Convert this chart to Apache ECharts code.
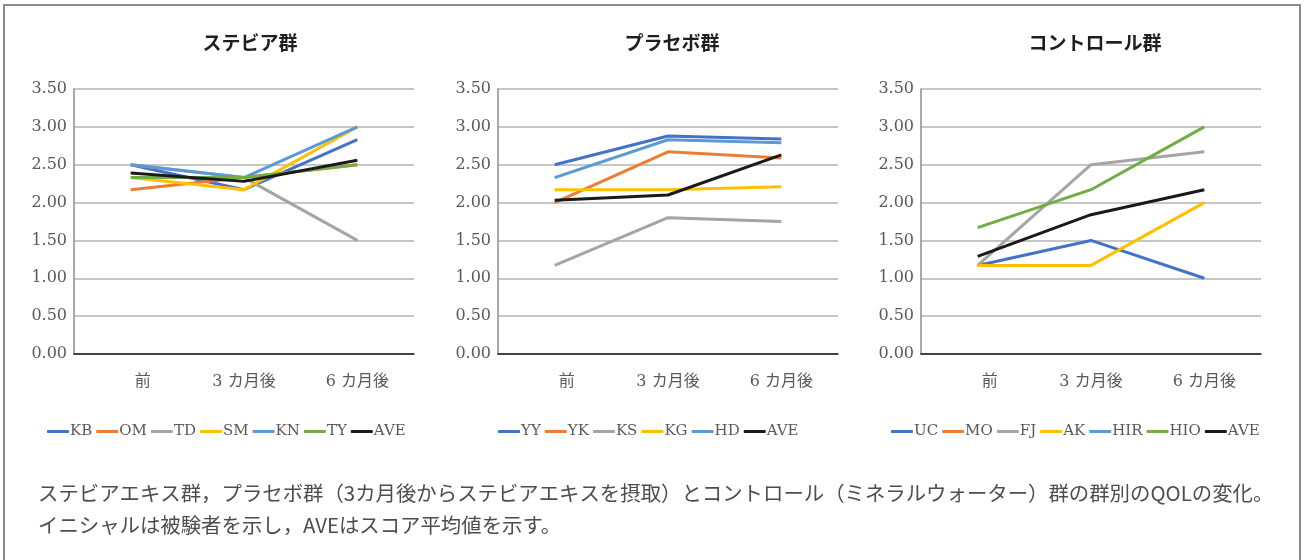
<!DOCTYPE html>
<html>
<head>
<meta charset="utf-8">
<script src="https://cdn.jsdelivr.net/npm/echarts@6/dist/echarts.min.js"></script>
<style>
html, body { margin: 0; background: #fff; }
#chart { width: 1304px; height: 560px; }
</style>
</head>
<body>
<div id="chart"></div>
<script>
const categories = ['前', '3 カ月後', '6 カ月後']
const panelTitles = ['ステビア群', 'プラセボ群', 'コントロール群']

// ステビア群
const steviaNames = ['KB', 'OM', 'TD', 'SM', 'KN', 'TY', 'AVE']
const steviaKB = [2.50, 2.17, 2.83]
const steviaOM = [2.17, 2.33, 2.50]
const steviaTD = [2.50, 2.33, 1.50]
const steviaSM = [2.33, 2.17, 3.00]
const steviaKN = [2.50, 2.33, 3.00]
const steviaTY = [2.33, 2.33, 2.50]
const steviaAVE = [2.39, 2.28, 2.56]

// プラセボ群
const placeboNames = ['YY', 'YK', 'KS', 'KG', 'HD', 'AVE']
const placeboYY = [2.50, 2.88, 2.84]
const placeboYK = [2.00, 2.67, 2.59]
const placeboKS = [1.17, 1.80, 1.75]
const placeboKG = [2.17, 2.17, 2.21]
const placeboHD = [2.33, 2.83, 2.79]
const placeboAVE = [2.03, 2.10, 2.63]

// コントロール群 (MO, HIR have no values drawn)
const controlNames = ['UC', 'MO', 'FJ', 'AK', 'HIR', 'HIO', 'AVE']
const controlUC = [1.17, 1.50, 1.00]
const controlMO = [null, null, null]
const controlFJ = [1.17, 2.50, 2.67]
const controlAK = [1.17, 1.17, 2.00]
const controlHIR = [null, null, null]
const controlHIO = [1.67, 2.17, 3.00]
const controlAVE = [1.29, 1.84, 2.17]

const caption1 = 'ステビアエキス群，プラセボ群（3カ月後からステビアエキスを摂取）とコントロール（ミネラルウォーター）群の群別のQOLの変化。'
const caption2 = 'イニシャルは被験者を示し，AVEはスコア平均値を示す。'

const colors = {
  blue: '#4472C4',
  orange: '#ED7D31',
  gray: '#A5A5A5',
  yellow: '#FFC000',
  lightBlue: '#5B9BD5',
  green: '#70AD47',
  black: '#1a1a1a',
}

const panels = [
  {
    names: steviaNames,
    data: [steviaKB, steviaOM, steviaTD, steviaSM, steviaKN, steviaTY, steviaAVE],
    colors: [colors.blue, colors.orange, colors.gray, colors.yellow, colors.lightBlue, colors.green, colors.black],
    gridLeft: 74,
    titleX: 245,
    legendLeft: 42,
  },
  {
    names: placeboNames,
    data: [placeboYY, placeboYK, placeboKS, placeboKG, placeboHD, placeboAVE],
    colors: [colors.blue, colors.orange, colors.gray, colors.yellow, colors.lightBlue, colors.black],
    gridLeft: 498,
    titleX: 667,
    legendLeft: 493,
  },
  {
    names: controlNames,
    data: [controlUC, controlMO, controlFJ, controlAK, controlHIR, controlHIO, controlAVE],
    colors: [colors.blue, colors.orange, colors.gray, colors.yellow, colors.lightBlue, colors.green, colors.black],
    gridLeft: 921,
    titleX: 1090,
    legendLeft: 886,
  },
]

const serif = "'DejaVu Serif', 'Noto Sans CJK JP', serif"

const chart = echarts.init(document.getElementById('chart'))

const series = []
panels.forEach((panel, p) => {
  panel.names.forEach((name, i) => {
    series.push({
      name: name,
      type: 'line',
      xAxisIndex: p,
      yAxisIndex: p,
      symbol: 'none',
      color: panel.colors[i],
      lineStyle: { width: 3, color: panel.colors[i] },
      data: panel.data[i],
    })
  })
})

chart.setOption({
  animation: false,
  title: panels.map((panel, p) => ({
    text: panelTitles[p],
    left: panel.titleX,
    top: 28,
    textAlign: 'center',
    textStyle: {
      fontFamily: "'Noto Sans CJK JP', sans-serif",
      fontSize: 19,
      fontWeight: 'bold',
      color: '#1f1f1f',
    },
  })),
  legend: panels.map((panel) => ({
    data: panel.names,
    left: panel.legendLeft,
    top: 419,
    icon: 'roundRect',
    itemWidth: 22,
    itemHeight: 3,
    itemGap: 4,
    selectedMode: false,
    textStyle: {
      fontFamily: serif,
      fontSize: 15,
      color: '#595959',
      padding: [0, 0, 0, -4],
    },
  })),
  grid: panels.map((panel) => ({
    left: panel.gridLeft,
    top: 89,
    width: 340,
    height: 265,
  })),
  xAxis: panels.map((panel, p) => ({
    type: 'category',
    gridIndex: p,
    boundaryGap: true,
    data: categories.map((c, i) => i === 0
      ? { value: c, textStyle: { padding: [0, 0, 0, 24] } }
      : c),
    axisLine: { show: true, lineStyle: { color: '#1a1a1a', width: 1.5 } },
    axisTick: { show: false },
    axisLabel: {
      margin: 20,
      fontFamily: serif,
      fontSize: 16,
      color: '#595959',
    },
  })),
  yAxis: panels.map((panel, p) => ({
    type: 'value',
    gridIndex: p,
    min: 0,
    max: 3.5,
    interval: 0.5,
    axisLine: { show: true, lineStyle: { color: '#8c8c8c', width: 1.5 } },
    axisTick: { show: false },
    splitLine: { show: true, lineStyle: { color: '#b3b3b3', width: 1.5 } },
    axisLabel: {
      margin: 7,
      fontFamily: serif,
      fontSize: 16,
      color: '#595959',
      formatter: (v) => v.toFixed(2),
    },
  })),
  series: series,
  graphic: [
    {
      type: 'rect',
      shape: { x: 4, y: 5, width: 1296, height: 600 },
      style: { fill: 'none', stroke: '#8c8c8c', lineWidth: 2 },
      silent: true,
    },
    {
      type: 'text',
      left: 38,
      top: 483,
      style: {
        text: caption1,
        font: "20.4px 'Noto Sans CJK JP'",
        fill: '#4d4d4d',
      },
    },
    {
      type: 'text',
      left: 38,
      top: 515,
      style: {
        text: caption2,
        font: "20.4px 'Noto Sans CJK JP'",
        fill: '#4d4d4d',
      },
    },
  ],
})
</script>
</body>
</html>
